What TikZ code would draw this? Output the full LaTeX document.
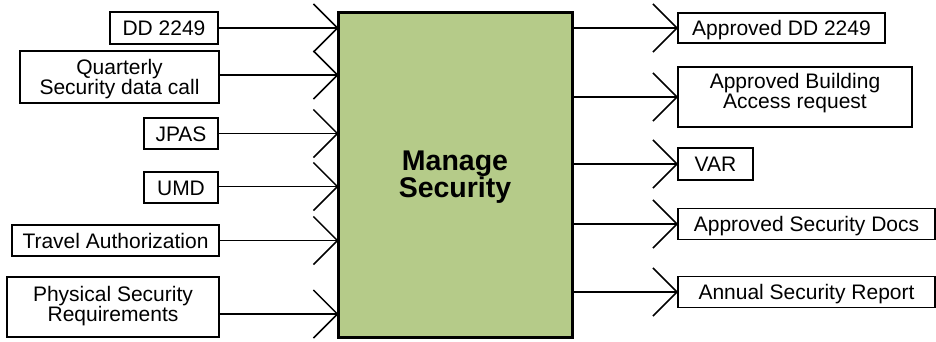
\documentclass[tikz,border=0pt]{standalone}
\usepackage{fontspec}
\setmainfont{Liberation Sans}
\usetikzlibrary{arrows.meta}
\definecolor{procgreen}{RGB}{181,203,137}

\begin{document}
\begin{tikzpicture}[x=1pt, y=-1pt,
    databox/.style={draw, line width=1.8pt, fill=white, inner sep=0pt, outer sep=0pt,
      align=center, text height=15pt, text depth=0pt,
      font={\fontsize{21}{19.8}\selectfont\lineskiplimit=-20pt}},
    twoline/.style={text height=35pt},
    flow/.style={line width=1.5pt, -{Straight Barb[length=24pt, width=48pt]}}]
  \useasboundingbox (0,0) rectangle (936,341);
  \node[draw, line width=3pt, fill=procgreen, outer sep=0pt,
        minimum width=234pt, minimum height=325pt] (main) at (455.5,175) {};
  \node[font=\bfseries\fontsize{28.5}{26}\selectfont, align=center] (title) at (455,177) {Manage\\Security};
  % inputs
  \node[databox, minimum width=108pt, minimum height=32pt] (dd) at (164,28) {DD 2249};
  \node[databox, twoline, minimum width=199pt, minimum height=52pt] (qtr) at (119.5,77) {Quarterly\\Security data call};
  \node[databox, minimum width=74pt, minimum height=31pt] (jpas) at (181,133.5) {JPAS};
  \node[databox, minimum width=74pt, minimum height=31pt] (umd) at (181,187.5) {UMD};
  \node[databox, minimum width=207pt, minimum height=31pt] (trav) at (115.5,240.5) {Travel Authorization};
  \node[databox, twoline, text depth=7pt, minimum width=212pt, minimum height=60pt] (phys) at (113,307) {Physical Security\\Requirements};
  % outputs
  \node[databox, minimum width=207pt, minimum height=30pt] (appdd) at (781.5,28) {Approved DD 2249};
  \node[databox, twoline, text depth=12pt, minimum width=234pt, minimum height=60pt] (bldg) at (795,97) {Approved Building\\Access request};
  \node[databox, minimum width=75pt, minimum height=32pt] (var) at (715.5,164) {VAR};
  \node[databox, minimum width=257pt, minimum height=31pt] (secdocs) at (806.5,224) {Approved Security Docs};
  \node[databox, minimum width=257pt, minimum height=31pt] (annual) at (806.5,292) {Annual Security Report};
  \foreach \src/\dy in {dd/0pt, qtr/2pt, jpas/0pt, umd/1pt, trav/0pt, phys/-7pt}
    \draw[flow] ([yshift=\dy]\src.east) -- ([yshift=\dy]\src.east -| main.west);
  \foreach \dst in {appdd, bldg, var, secdocs, annual}
    \draw[flow] (main.east |- \dst.west) -- (\dst.west);
\end{tikzpicture}
\end{document}
